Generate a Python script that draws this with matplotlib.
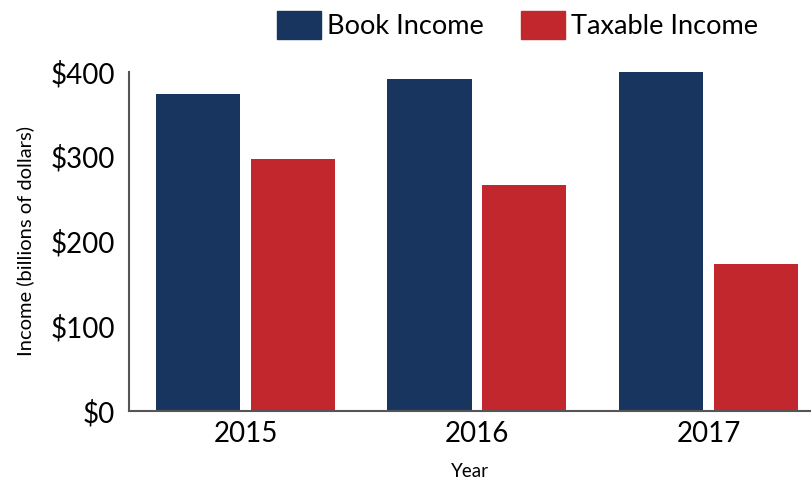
import matplotlib
matplotlib.use("Agg")
import matplotlib.pyplot as plt
import numpy as np
from matplotlib.patches import Patch

years = ["2015", "2016", "2017"]
book_income = [374, 392, 400]
taxable_income = [297, 267, 174]
yticks = [0, 100, 200, 300, 400]
ytick_labels = ["$0", "$100", "$200", "$300", "$400"]

navy = "#17355E"
red = "#C1272D"

plt.rcParams['font.family'] = ['Lato', 'DejaVu Sans']

fig = plt.figure(figsize=(8.11, 4.82), dpi=100)
ax = fig.add_axes([129/811, 71/482, 1 - 129/811, (411-72)/482])

x = np.arange(len(years))
w = 0.363
off = 0.205
ax.bar(x - off, book_income, width=w, color=navy)
ax.bar(x + off, taxable_income, width=w, color=red)

ax.set_xlim(-0.503, 2.443)
ax.set_ylim(0, 400)
ax.set_xticks(x)
ax.set_xticklabels(years, fontsize=20)
ax.set_yticks(yticks)
ax.set_yticklabels(ytick_labels, fontsize=20)
ax.tick_params(length=0, pad=10)
ax.tick_params(axis='x', pad=7)
for s in ["top", "right"]:
    ax.spines[s].set_visible(False)
for s in ["left", "bottom"]:
    ax.spines[s].set_color("#555555")
    ax.spines[s].set_linewidth(1.5)

ax.set_ylabel("Income (billions of dollars)", fontsize=14.5, labelpad=12)
ax.set_xlabel("Year", fontsize=13.5, labelpad=12)

handles = [Patch(color=navy, label="Book Income"), Patch(color=red, label="Taxable Income")]
fig.legend(handles=handles, loc="center", bbox_to_anchor=(0.638, 0.948), ncol=2,
           frameon=False, fontsize=19.5, handlelength=1.65, handleheight=1.2,
           handletextpad=0.22, columnspacing=1.35)

fig.savefig("out.png", dpi=100)
